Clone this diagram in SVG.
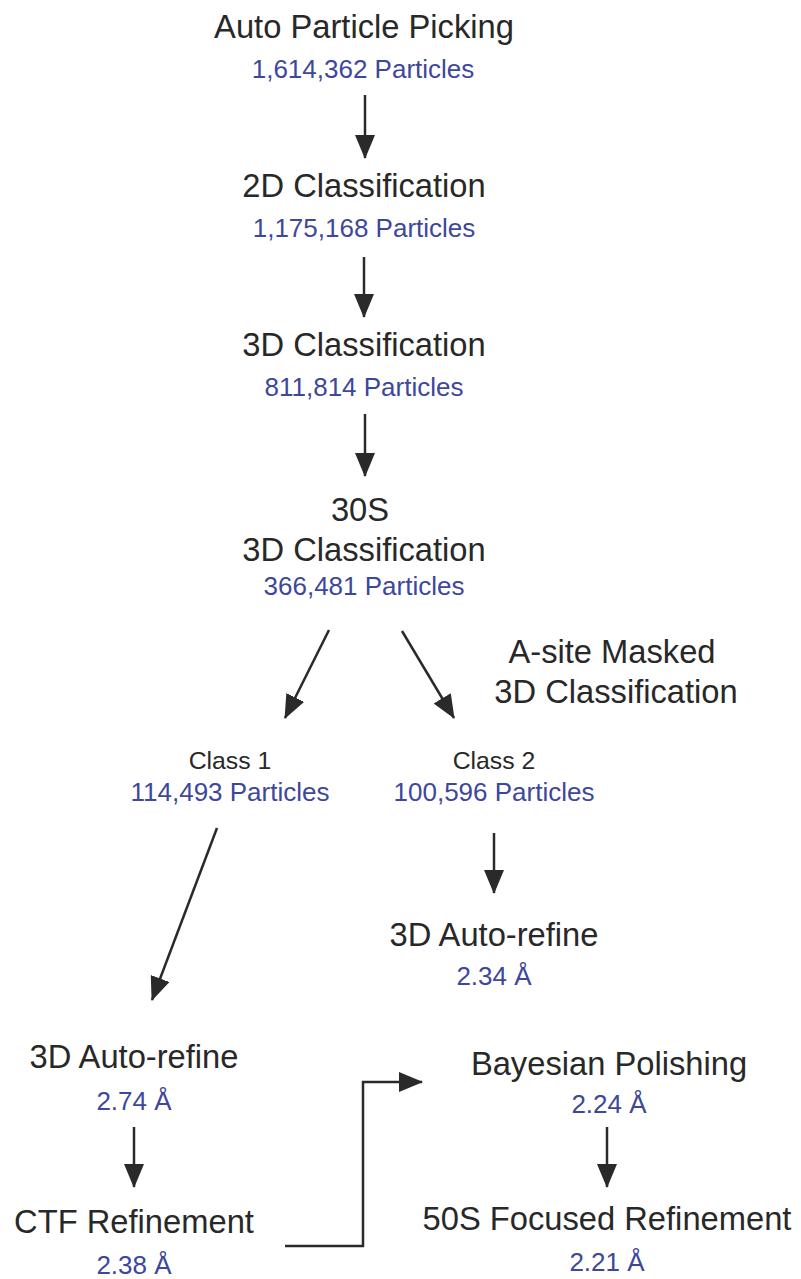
<svg xmlns="http://www.w3.org/2000/svg" width="801" height="1279" viewBox="0 0 801 1279">
  <style>
    text { font-family: "Liberation Sans", Arial, Helvetica, sans-serif; text-anchor: middle; }
    .title { font-size: 32.7px; fill: #282828; }
    .sub { font-size: 24.8px; fill: #282828; }
    .count { font-size: 26px; fill: #3d479c; }
    .edge { stroke: #2a2a2a; stroke-width: 2.5; fill: none; marker-end: url(#head); }
  </style>
  <defs>
    <marker id="head" markerUnits="userSpaceOnUse" markerWidth="24" markerHeight="20" refX="23" refY="10" orient="auto">
      <path d="M0,0 L24,10 L0,20 Z" fill="#2a2a2a"/>
    </marker>
  </defs>
  <rect width="801" height="1279" fill="#ffffff"/>

  <g id="auto-picking">
    <text class="title" x="364" y="38">Auto Particle Picking</text>
    <text class="count" x="363" y="78">1,614,362 Particles</text>
  </g>
  <g id="class2d">
    <text class="title" x="364" y="197">2D Classification</text>
    <text class="count" x="364" y="237">1,175,168 Particles</text>
  </g>
  <g id="class3d">
    <text class="title" x="364" y="356">3D Classification</text>
    <text class="count" x="364" y="396">811,814 Particles</text>
  </g>
  <g id="class3d-30s">
    <text class="title" x="360" y="521">30S</text>
    <text class="title" x="364" y="561">3D Classification</text>
    <text class="count" x="364" y="595">366,481 Particles</text>
  </g>
  <g id="asite-note">
    <text class="title" x="612" y="663">A-site Masked</text>
    <text class="title" x="616" y="703">3D Classification</text>
  </g>
  <g id="class-1">
    <text class="sub" x="230" y="769">Class 1</text>
    <text class="count" x="230" y="801">114,493 Particles</text>
  </g>
  <g id="class-2">
    <text class="sub" x="494" y="769">Class 2</text>
    <text class="count" x="494" y="801">100,596 Particles</text>
  </g>
  <g id="refine-class2">
    <text class="title" x="494" y="946">3D Auto-refine</text>
    <text class="count" x="494" y="985">2.34 Å</text>
  </g>
  <g id="refine-class1">
    <text class="title" x="134" y="1068">3D Auto-refine</text>
    <text class="count" x="134" y="1110">2.74 Å</text>
  </g>
  <g id="ctf-refinement">
    <text class="title" x="134" y="1233">CTF Refinement</text>
    <text class="count" x="134" y="1274">2.38 Å</text>
  </g>
  <g id="bayesian-polishing">
    <text class="title" x="609" y="1075">Bayesian Polishing</text>
    <text class="count" x="609" y="1113">2.24 Å</text>
  </g>
  <g id="focused-50s">
    <text class="title" x="607" y="1230">50S Focused Refinement</text>
    <text class="count" x="607" y="1271">2.21 Å</text>
  </g>

  <g id="connectors">
    <line class="edge" x1="365" y1="95" x2="365" y2="158"/>
    <line class="edge" x1="364" y1="257" x2="364" y2="317"/>
    <line class="edge" x1="365" y1="414" x2="365" y2="476"/>
    <line class="edge" x1="329" y1="630" x2="285" y2="718"/>
    <line class="edge" x1="402" y1="631" x2="454" y2="718"/>
    <line class="edge" x1="217" y1="828" x2="152" y2="1000"/>
    <line class="edge" x1="494" y1="833" x2="494" y2="893"/>
    <line class="edge" x1="134" y1="1127" x2="134" y2="1187"/>
    <line class="edge" x1="607" y1="1127" x2="607" y2="1187"/>
    <polyline class="edge" points="285,1246 363,1246 363,1082 422,1082"/>
  </g>
</svg>
